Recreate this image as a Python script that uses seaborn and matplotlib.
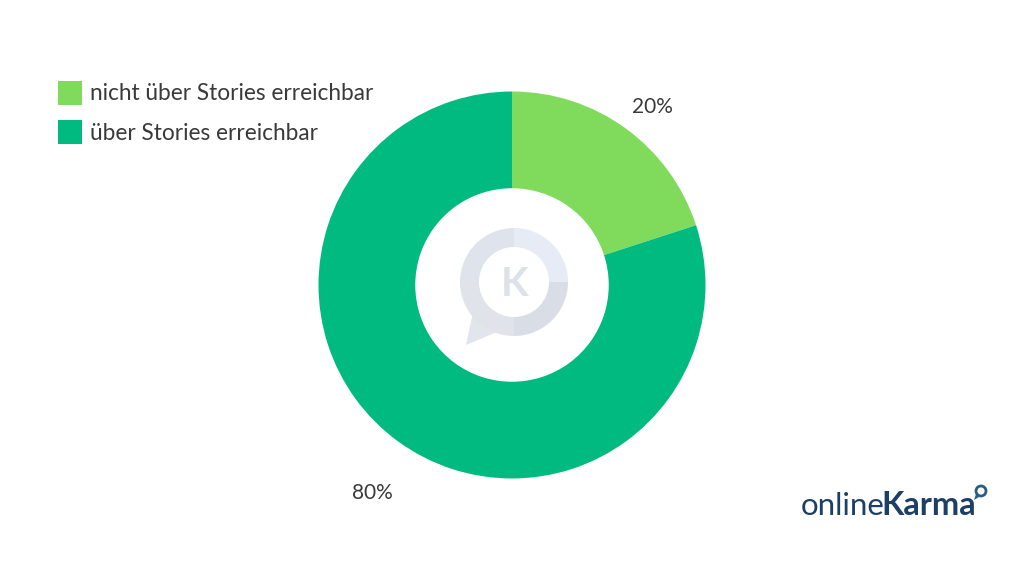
#!/usr/bin/env python3
"""Donut chart: reachability via Stories, with onlineKarma watermark and logo."""

import matplotlib

matplotlib.use("Agg")

import matplotlib.pyplot as plt
import seaborn as sns
from matplotlib.patches import Circle, Polygon, Rectangle, Wedge

CATEGORIES = ["nicht über Stories erreichbar", "über Stories erreichbar"]
VALUES = [20, 80]
VALUE_LABELS = ["20%", "80%"]
COLORS = ["#80DB5C", "#00BA7F"]

TEXT_COLOR = "#3a3a3a"
LOGO_COLOR = "#1d3f66"
W, H = 1024, 576


def main() -> None:
    sns.set_theme(style="white")
    plt.rcParams["font.family"] = ["Lato", "DejaVu Sans"]
    palette = sns.color_palette(COLORS)

    fig = plt.figure(figsize=(W / 100, H / 100), dpi=100, facecolor="white")

    # pie axes placed in pixels so the ring sits where it should
    cx, cy, r = 512, 285, 193.5
    ax = fig.add_axes([(cx - r) / W, 1 - (cy + r) / H, 2 * r / W, 2 * r / H])
    ax.pie(
        VALUES,
        colors=palette,
        startangle=90,
        counterclock=False,
        radius=1.0,
        wedgeprops={"width": 0.5, "linewidth": 0},
    )
    ax.set_xlim(-1, 1)
    ax.set_ylim(-1, 1)
    ax.set_aspect("equal")
    ax.axis("off")

    # overlay in pixel coordinates, y pointing up
    over = fig.add_axes([0, 0, 1, 1], facecolor="none")
    over.set_xlim(0, W)
    over.set_ylim(0, H)
    over.axis("off")

    def py(y):
        return H - y

    # legend
    for i, (label, color) in enumerate(zip(CATEGORIES, palette)):
        top = 81 + i * 39
        over.add_patch(Rectangle((58, py(top + 24)), 24, 24, color=color, lw=0))
        over.text(90, py(top + 13), label, fontsize=16.3, color=TEXT_COLOR,
                  va="center", ha="left")

    # value labels
    over.text(652, py(107), VALUE_LABELS[0], fontsize=15, color=TEXT_COLOR,
              ha="center", va="center")
    over.text(372, py(493), VALUE_LABELS[1], fontsize=15, color=TEXT_COLOR,
              ha="center", va="center")

    # watermark in the hole
    mx, my = 514, py(282)
    over.add_patch(Polygon([(466, py(345)), (473, py(312)), (497, py(332))],
                           closed=True, color="#e1e5ec", lw=0))
    over.add_patch(Wedge((mx, my), 54, 0, 90, width=19, color="#e6ebf5", lw=0))
    over.add_patch(Wedge((mx, my), 54, 90, 180, width=19, color="#dfe3eb", lw=0))
    over.add_patch(Wedge((mx, my), 54, 180, 270, width=19, color="#e0e4ea", lw=0))
    over.add_patch(Wedge((mx, my), 54, 270, 360, width=19, color="#d9dee6", lw=0))
    over.text(515, py(284), "K", fontsize=29, fontweight="bold", color="#dde1e8",
              ha="center", va="center")

    # logo
    over.text(801, py(515), "online", fontsize=22.5, fontweight="normal",
              color=LOGO_COLOR, ha="left", va="baseline")
    over.text(881, py(515), "Karma", fontsize=23.5, fontweight="bold",
              color=LOGO_COLOR, ha="left", va="baseline")
    over.add_patch(Circle((981, py(491)), 5, fc="white", ec="#2b5c86", lw=2))
    over.add_patch(Polygon([(974, py(500)), (976, py(494)), (979, py(497))],
                           closed=True, color="#2b5c86", lw=0))

    fig.savefig("out.png", dpi=100, facecolor="white")
    plt.close(fig)


if __name__ == "__main__":
    main()
